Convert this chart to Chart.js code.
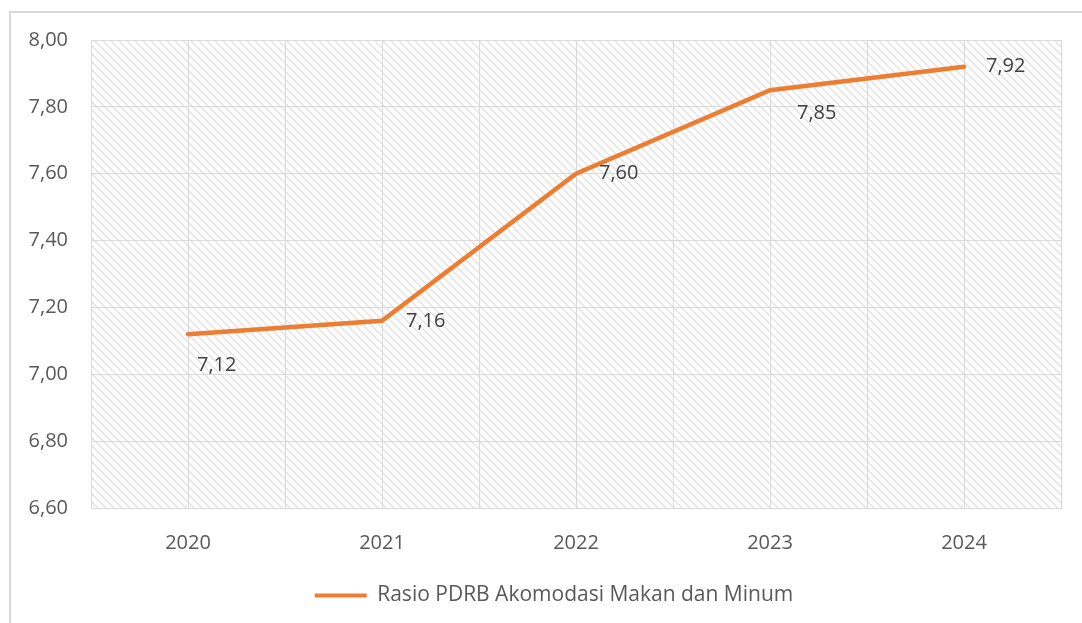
<!DOCTYPE html>
<html>
<head>
<meta charset="utf-8">
<script src="https://cdn.jsdelivr.net/npm/chart.js@4.4.1/dist/chart.umd.min.js"></script>
<style>
  html, body { margin: 0; padding: 0; background: #fff; overflow: hidden; width: 1082px; height: 623px; }
  #wrap {
    position: absolute; left: 9px; top: 11px;
    width: 1092px; height: 640px;
    box-sizing: border-box;
    border: 2px solid #d9d9d9;
  }
</style>
</head>
<body>
<div id="wrap"><canvas id="chart"></canvas></div>
<script>
const years = ['2020', '2021', '2022', '2023', '2024'];
const rasio = [7.12, 7.16, 7.60, 7.85, 7.92];
const yTicks = [6.60, 6.80, 7.00, 7.20, 7.40, 7.60, 7.80, 8.00];
const seriesName = 'Rasio PDRB Akomodasi Makan dan Minum';

const ORANGE = '#ED7D31';
const GRID = '#d9d9d9';
const FONT = '"Open Sans", "DejaVu Sans", sans-serif';

const fmt = v => v.toFixed(2).replace('.', ',');

// diagonal hatch tile for the plot background
function hatchPattern(ctx) {
    const tile = document.createElement('canvas');
    tile.width = 8; tile.height = 8;
    const t = tile.getContext('2d');
    t.strokeStyle = '#dcdcdc';
    t.lineWidth = 1.1;
    t.beginPath();
    t.moveTo(-2, -2); t.lineTo(10, 10);
    t.moveTo(-2, 6); t.lineTo(2, 10);
    t.moveTo(6, -2); t.lineTo(10, 2);
    t.stroke();
    return ctx.createPattern(tile, 'repeat');
}

const plotBackground = {
    id: 'plotBackground',
    beforeDraw(chart) {
        const { ctx, chartArea: a } = chart;
        ctx.save();
        ctx.fillStyle = hatchPattern(ctx);
        ctx.fillRect(a.left, a.top, a.right - a.left, a.bottom - a.top);
        ctx.restore();
    }
};

// legend sits centred on the whole frame, not just the space right of the y axis
const legendShift = {
    id: 'legendShift',
    afterLayout(chart, args, opts) {
        chart.legend.left += opts.dx;
        chart.legend.right += opts.dx;
    }
};

// value labels next to each point
const valueLabels = {
    id: 'valueLabels',
    afterDatasetsDraw(chart, args, opts) {
        const { ctx } = chart;
        const meta = chart.getDatasetMeta(0);
        ctx.save();
        ctx.font = '20px ' + FONT;
        ctx.fillStyle = '#404040';
        ctx.textAlign = 'left';
        ctx.textBaseline = 'middle';
        meta.data.forEach((pt, i) => {
            const [dx, dy] = opts.offsets[i];
            ctx.fillText(fmt(chart.data.datasets[0].data[i]), pt.x + dx, pt.y + dy);
        });
        ctx.restore();
    }
};

new Chart(document.getElementById('chart'), {
    type: 'line',
    data: {
        labels: years,
        datasets: [{
            label: seriesName,
            data: rasio,
            borderColor: ORANGE,
            backgroundColor: ORANGE,
            borderWidth: 4.5,
            borderCapStyle: 'round',
            borderJoinStyle: 'miter',
            pointRadius: 0,
            tension: 0,
            xAxisID: 'x',
            yAxisID: 'y'
        }]
    },
    options: {
        responsive: true,
        maintainAspectRatio: false,
        animation: false,
        layout: { padding: { top: 27, right: 38, left: 16, bottom: 33 } },
        plugins: {
            tooltip: { enabled: false },
            legendShift: { dx: 10 },
            valueLabels: { offsets: [[9, 31], [24, 0], [23, 0], [27, 23], [22, 0]] },
            legend: {
                position: 'bottom',
                labels: {
                    font: { family: FONT, size: 21 },
                    color: '#595959',
                    boxWidth: 52,
                    boxHeight: 4,
                    padding: 10,
                    generateLabels: chart => chart.data.datasets.map((ds, i) => ({
                        text: ds.label,
                        fillStyle: ORANGE,
                        strokeStyle: ORANGE,
                        lineWidth: 0,
                        fontColor: '#595959',
                        datasetIndex: i
                    }))
                }
            }
        },
        scales: {
            x: {
                offset: true,
                grid: { color: GRID, offset: false, drawTicks: false },
                border: { color: GRID },
                ticks: { font: { family: FONT, size: 20 }, color: '#595959', padding: 23 },
                afterFit: s => { s.height = 67; s.paddingLeft = 0; s.paddingRight = 0; }
            },
            x2: {
                type: 'category',
                labels: years,
                position: 'bottom',
                offset: true,
                grid: { color: GRID, offset: true, drawTicks: false },
                border: { display: false },
                ticks: { display: false }
            },
            y: {
                min: 6.6,
                max: 8.0,
                afterBuildTicks: axis => { axis.ticks = yTicks.map(v => ({ value: v })); },
                grid: { color: GRID, drawTicks: false },
                border: { color: GRID },
                ticks: {
                    font: { family: FONT, size: 20 },
                    color: '#595959',
                    padding: 23,
                    callback: v => fmt(v)
                },
                afterFit: s => { s.width = 64; s.paddingTop = 0; s.paddingBottom = 0; }
            }
        }
    },
    plugins: [plotBackground, legendShift, valueLabels]
});
</script>
</body>
</html>
